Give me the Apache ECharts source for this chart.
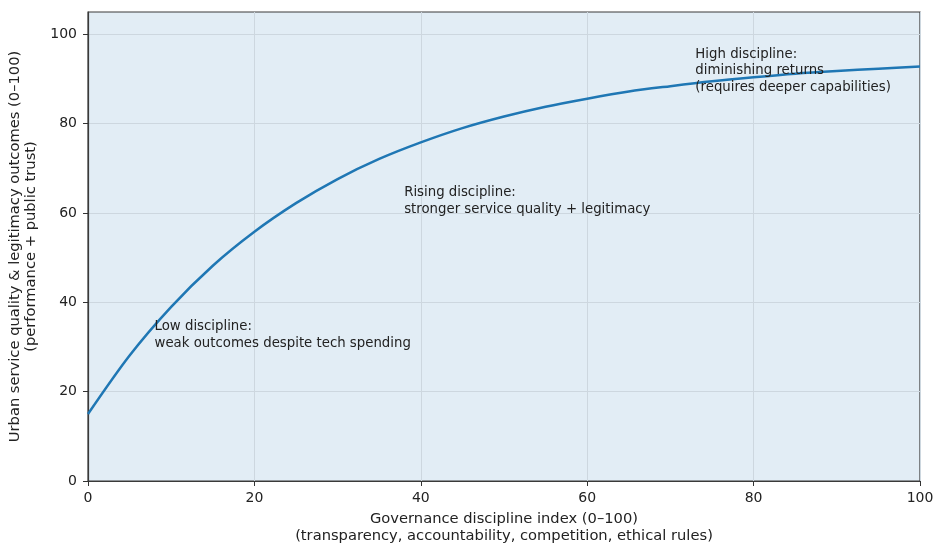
<!DOCTYPE html>
<html>
<head>
<meta charset="utf-8">
<script src="https://cdn.jsdelivr.net/npm/echarts@6/dist/echarts.min.js"></script>
<style>
    html, body { margin: 0; padding: 0; background: #ffffff; }
    #chart { width: 936px; height: 545px; }
</style>
</head>
<body>
<div id="chart"></div>
<script>
// governance discipline index (x) and outcome values (y)
const disciplineIndex = [0, 5, 10, 15, 20, 25, 30, 35, 40, 45, 50, 55, 60, 65, 70, 75, 80, 85, 90, 95, 100]
const outcomeValues = [15.0, 28.1, 39.0, 48.2, 55.8, 62.2, 67.6, 72.1, 75.8, 79.0, 81.6, 83.8, 85.6, 87.2, 88.4, 89.5, 90.4, 91.2, 91.8, 92.3, 92.8]
const yTickValues = [0, 20, 40, 60, 80, 100]

// annotation texts with their data anchors
const noteTexts = [
    'Low discipline:\nweak outcomes despite tech spending',
    'Rising discipline:\nstronger service quality + legitimacy',
    'High discipline:\ndiminishing returns\n(requires deeper capabilities)'
]
const noteAnchors = [[8, 35], [38, 65], [73, 96]]

const xTitle = 'Governance discipline index (0\u2013100)\n(transparency, accountability, competition, ethical rules)'
const yTitle = 'Urban service quality & legitimacy outcomes (0\u2013100)\n(performance + public trust)'

const font = 'DejaVu Sans'
const axisColor = '#333333'
const noteLine = 16.5

const chart = echarts.init(document.getElementById('chart'), null, { renderer: 'canvas' })

const option = {
    backgroundColor: '#ffffff',
    animation: false,
    textStyle: { fontFamily: font },
    grid: {
        left: 88,
        right: 16,
        top: 12,
        bottom: 64,
        containLabel: false,
        outerBoundsMode: 'none',
        show: true,
        backgroundColor: '#e2edf5',
        borderColor: '#3a3a3a',
        borderWidth: 1.2
    },
    xAxis: {
        type: 'value',
        min: 0,
        max: 100,
        interval: 20,
        name: xTitle,
        nameLocation: 'middle',
        nameGap: 30,
        nameTextStyle: { fontFamily: font, fontSize: 14.7, color: '#222', lineHeight: 17 },
        axisLine: { show: true, lineStyle: { color: '#3a3a3a', width: 1.2 } },
        axisTick: { show: true, length: 5, lineStyle: { color: axisColor } },
        axisLabel: { fontFamily: font, fontSize: 14, color: '#222', margin: 10 },
        splitLine: { show: true, lineStyle: { color: '#cdd7df', width: 1 } }
    },
    yAxis: {
        type: 'value',
        min: 0,
        max: 105,
        interval: 20,
        name: yTitle,
        nameLocation: 'middle',
        nameRotate: 90,
        nameGap: 47,
        nameTextStyle: { fontFamily: font, fontSize: 14.7, color: '#222', lineHeight: 16 },
        axisLine: { show: true, lineStyle: { color: '#3a3a3a', width: 1.2 } },
        axisTick: { show: true, length: 5, customValues: yTickValues, lineStyle: { color: axisColor } },
        axisLabel: {
            fontFamily: font, fontSize: 14, color: '#222', margin: 11,
            customValues: yTickValues
        },
        splitLine: { show: true, lineStyle: { color: '#cdd7df', width: 1 } }
    },
    series: [{
        type: 'line',
        data: disciplineIndex.map((x, i) => [x, outcomeValues[i]]),
        smooth: 0.3,
        showSymbol: false,
        lineStyle: { color: '#1f77b4', width: 2.5 },
        z: 3
    }]
}

chart.setOption(option)

// annotations placed from data coordinates
const graphics = noteTexts.map((txt, i) => {
    const p = chart.convertToPixel({ gridIndex: 0 }, noteAnchors[i])
    return {
        type: 'text',
        x: p[0],
        y: p[1] - noteLine / 2 + 2,
        z: 10,
        style: {
            text: txt,
            font: '13.3px "DejaVu Sans"',
            fill: '#222',
            lineHeight: noteLine,
            textAlign: 'left',
            textVerticalAlign: 'top'
        }
    }
})
chart.setOption({ graphic: graphics })
</script>
</body>
</html>
